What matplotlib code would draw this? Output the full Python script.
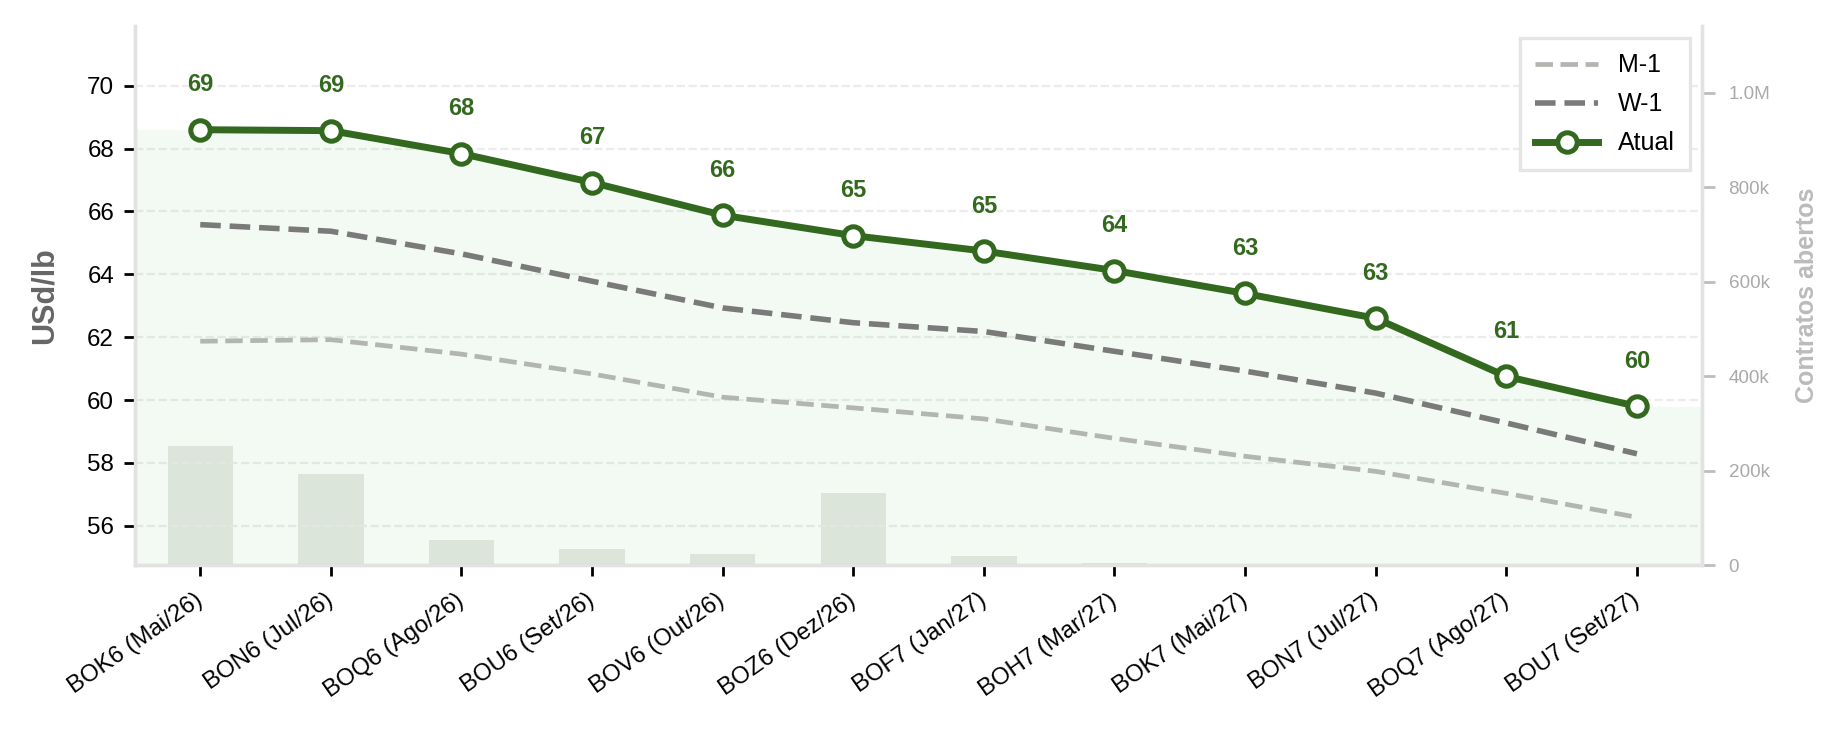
import numpy as np
import matplotlib
matplotlib.use("Agg")
from matplotlib import pyplot as plt
from matplotlib.ticker import FuncFormatter, MultipleLocator

plt.rcParams['font.family'] = ['Liberation Sans', 'DejaVu Sans']

#%% Données

contratos = ['BOK6 (Mai/26)', 'BON6 (Jul/26)', 'BOQ6 (Ago/26)', 'BOU6 (Set/26)',
             'BOV6 (Out/26)', 'BOZ6 (Dez/26)', 'BOF7 (Jan/27)', 'BOH7 (Mar/27)',
             'BOK7 (Mai/27)', 'BON7 (Jul/27)', 'BOQ7 (Ago/27)', 'BOU7 (Set/27)']
atual = [68.60, 68.57, 67.84, 66.92, 65.88, 65.23, 64.74, 64.12, 63.39, 62.60, 60.75, 59.80]
w1 = [65.58, 65.37, 64.65, 63.78, 62.93, 62.46, 62.18, 61.55, 60.92, 60.22, 59.27, 58.29]
m1 = [61.87, 61.92, 61.46, 60.83, 60.09, 59.75, 59.40, 58.78, 58.21, 57.73, 57.03, 56.27]
contratos_abertos = [252000, 193000, 53000, 34000, 23000, 153000, 19000, 4500, 3000, 2500, 800, 500]

verde = '#33691e'
x = np.arange(len(contratos))
xmin, xmax = -0.5, 11.5

#%% Figure

fig = plt.figure(figsize=(9.23, 3.67), dpi=200)
ax = fig.add_axes([0.0731, 0.2302, 0.849, 0.7344])
ax2 = ax.twinx()
ax.set_zorder(ax2.get_zorder() + 1)
ax.patch.set_visible(False)

# barres des contrats ouverts (axe droit)
ax2.bar(x, contratos_abertos, width=0.5, color='#e6e9e4', zorder=1)
ax2.set_ylim(0, max(contratos_abertos) * 4.53)
ax2.yaxis.set_major_locator(MultipleLocator(200000))
ax2.yaxis.set_major_formatter(FuncFormatter(
    lambda v, p: '0' if v == 0 else ('%.1fM' % (v / 1e6) if v >= 1e6 else '%dk' % (v / 1e3))))
ax2.tick_params(axis='y', colors='#bdbdbd', labelcolor='#aaaaaa', labelsize=6.8, length=4.5, width=1, pad=5)
ax2.set_ylabel('Contratos abertos', color='#bbbbbb', fontsize=9, fontweight='bold', labelpad=9)

# zone remplie sous la courbe actuelle
xf = np.concatenate([[xmin], x, [xmax]])
yf = np.concatenate([[atual[0]], atual, [atual[-1]]])
ax.fill_between(xf, yf, 50, color='#4caf50', alpha=0.065, linewidth=0, zorder=1)

ax.plot(x, m1, '--', color='#b3b5b0', lw=1.7, label='M-1', zorder=3)
ax.plot(x, w1, '--', color='#7a7a7a', lw=2.0, label='W-1', zorder=3)
ax.plot(x, atual, '-o', color=verde, lw=2.5, ms=7, mfc='white', mec=verde, mew=1.8,
        label='Atual', zorder=4)

for xi, yi in zip(x, atual):
    ax.annotate('%d' % round(yi), (xi, yi), xytext=(0, 12), textcoords='offset points',
                ha='center', va='bottom', color=verde, fontsize=8.5, fontweight='bold')

ax.set_xlim(xmin, xmax)
ax.set_ylim(54.75, 71.9)
ax.yaxis.set_major_locator(MultipleLocator(2))
ax.set_xticks(x)
ax.set_xticklabels(contratos, rotation=35, ha='right', va='center', rotation_mode='anchor', fontsize=8.6)
ax.tick_params(axis='y', labelsize=8.7, length=4, width=1)
ax.tick_params(axis='x', length=4, width=1, pad=8)
ax.set_ylabel('USd/lb', color='#666666', fontsize=11, fontweight='bold', labelpad=10)
ax.grid(axis='y', linestyle='--', linewidth=0.8, color='#ececec')
ax.set_axisbelow(True)

for a in (ax, ax2):
    a.spines['top'].set_visible(False)
    for s in ('left', 'right', 'bottom'):
        a.spines[s].set_color('#e2e2e2')
        a.spines[s].set_linewidth(1.2)

leg = ax.legend(loc='upper right', fontsize=9, fancybox=False, framealpha=1,
                edgecolor='#e5e5e5', borderpad=0.6, labelspacing=0.6, handlelength=2.5)
leg.get_frame().set_linewidth(1.2)

plt.savefig('out.png', dpi=200)
